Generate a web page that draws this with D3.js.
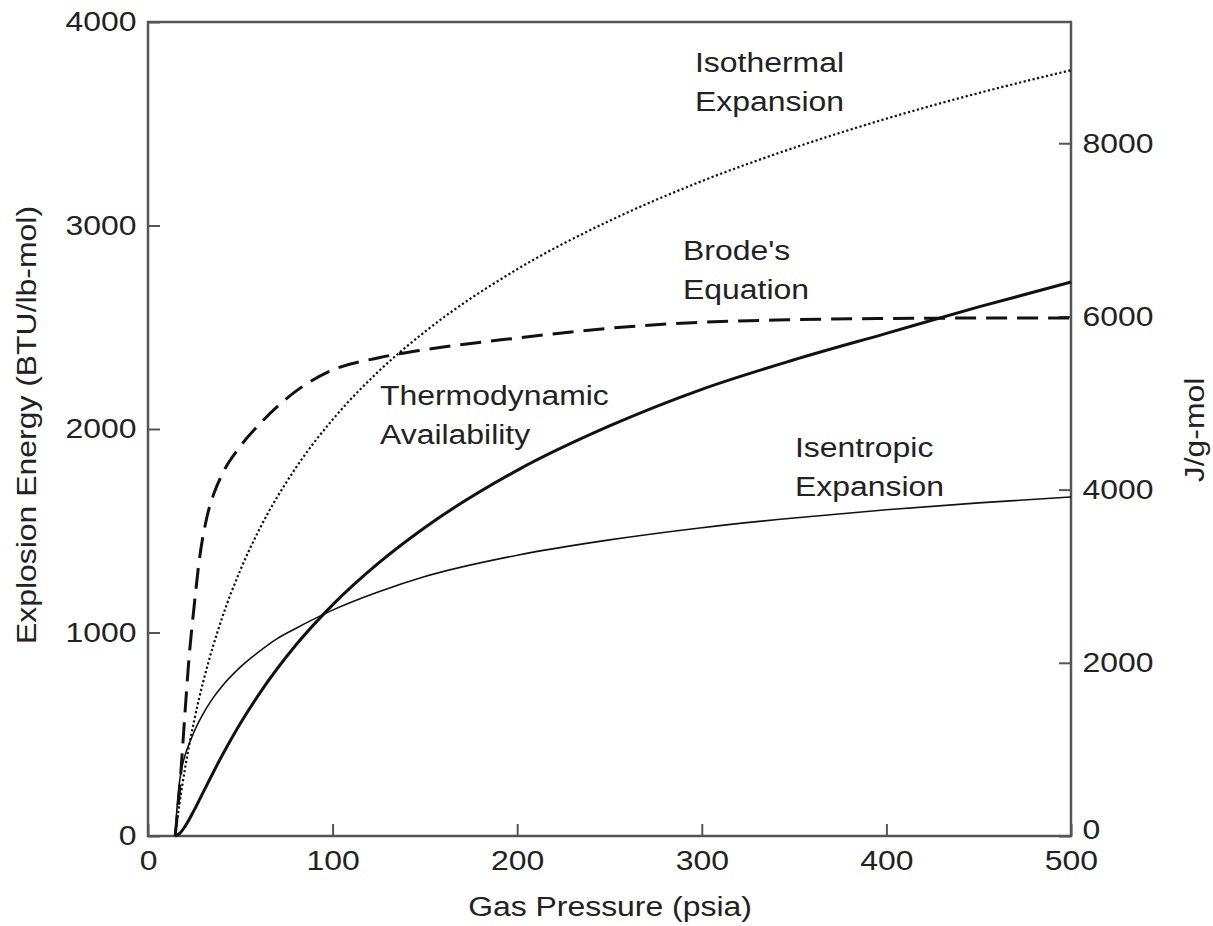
<!DOCTYPE html>
<html lang="en">
<head>
    <meta charset="UTF-8">
    <title>Explosion Energy</title>
    <script src="https://d3js.org/d3.v7.min.js"></script>
    <style>
        body { margin: 0; background: #fff; }
        text { font-family: "Liberation Sans", Arial, sans-serif; fill: #222; }
        .curve { fill: none; stroke: #111; }
    </style>
</head>
<body>
    <div id="chart"></div>
    <script>
        // each curve has its own pressure points (psia), values in BTU/lb-mol
        const isoP = [14.7, 17, 20, 25, 30, 40, 50, 60, 80, 100, 125, 150, 200, 250, 300, 350, 400, 450, 500];
        const isothermal = [0, 155, 329, 567, 761, 1068, 1306, 1501, 1808, 2046, 2284, 2478, 2785, 3023, 3218, 3382, 3525, 3651, 3763];

        const brodeP = [14.7, 17, 20, 22, 25, 28, 32, 36, 40, 50, 60, 80, 100, 125, 150, 200, 250, 300, 350, 400, 450, 500];
        const brode = [0, 220, 600, 850, 1130, 1370, 1570, 1690, 1775, 1915, 2020, 2185, 2290, 2350, 2390, 2447, 2495, 2525, 2537, 2543, 2545, 2545];

        const availP = [14.7, 17, 20, 25, 30, 40, 50, 60, 80, 100, 125, 150, 200, 250, 300, 350, 400, 450, 500];
        const availability = [0, 11, 46, 127, 217, 393, 553, 695, 937, 1136, 1342, 1516, 1797, 2015, 2195, 2340, 2470, 2600, 2722];

        const isenP = [14.7, 16, 17, 18, 20, 23, 26, 30, 35, 40, 50, 60, 70, 80, 100, 125, 150, 200, 250, 300, 350, 400, 450, 500];
        const isentropic = [0, 170, 260, 320, 395, 469, 533, 603, 675, 735, 830, 905, 970, 1020, 1110, 1200, 1275, 1380, 1455, 1515, 1563, 1603, 1637, 1666];

        const xTicks = [0, 100, 200, 300, 400, 500];
        const leftTicks = [0, 1000, 2000, 3000, 4000];
        const rightTicks = [0, 2000, 4000, 6000, 8000];
        const rightMax = 9400; // J/g-mol at the top of the frame

        var width = 1213, height = 926;
        var plotL = 148, plotR = 1071, plotT = 22, plotB = 836;
        var sx = 1.14; // the figure's lettering is a bit wide

        var svg = d3.select("#chart").append("svg")
            .attr("width", width)
            .attr("height", height);

        var x = d3.scaleLinear().domain([0, 500]).range([plotL, plotR]);
        var y = d3.scaleLinear().domain([0, 4000]).range([plotB, plotT]);
        var y2 = d3.scaleLinear().domain([0, rightMax]).range([plotB, plotT]);

        function styleAxis(g) {
            g.select(".domain").remove();
            g.selectAll("line").attr("stroke", "#555").attr("stroke-width", 2);
            g.selectAll("text")
                .attr("font-size", 28)
                .attr("font-family", "Liberation Sans, Arial, sans-serif")
                .attr("fill", "#222")
                .attr("transform", "scale(" + sx + ",1)");
        }

        svg.append("g")
            .attr("transform", "translate(0," + plotB + ")")
            .call(d3.axisBottom(x).tickValues(xTicks).tickSize(-12).tickPadding(14).tickFormat(d3.format("d")))
            .call(styleAxis);

        svg.append("g")
            .attr("transform", "translate(" + plotL + ",0)")
            .call(d3.axisLeft(y).tickValues(leftTicks).tickSize(-12).tickPadding(10).tickFormat(d3.format("d")))
            .call(styleAxis);

        var rightAxis = svg.append("g")
            .attr("transform", "translate(" + plotR + ",0)")
            .call(d3.axisRight(y2).tickValues(rightTicks).tickSize(-12).tickPadding(10).tickFormat(d3.format("d")))
            .call(styleAxis);
        // the right-hand zero sits a little above the corner
        rightAxis.selectAll(".tick text").filter(function(d) { return d === 0; }).attr("dy", "0.1em");

        // frame
        svg.append("rect")
            .attr("x", plotL).attr("y", plotT)
            .attr("width", plotR - plotL).attr("height", plotB - plotT)
            .attr("fill", "none").attr("stroke", "#555").attr("stroke-width", 2.5);

        var line = d3.line().curve(d3.curveMonotoneX);

        function drawCurve(ps, values, w, dash) {
            svg.append("path")
                .datum(ps.map(function(p, i) { return [x(p), y(values[i])]; }))
                .attr("class", "curve")
                .attr("stroke-width", w)
                .attr("stroke-dasharray", dash)
                .attr("d", line);
        }

        drawCurve(isoP, isothermal, 2.2, "2.2,2.4");
        drawCurve(brodeP, brode, 3, "21,10");
        drawCurve(isenP, isentropic, 1.6, null);
        drawCurve(availP, availability, 3, null);

        function label(px, py, lines, anchor, rot) {
            var t = svg.append("text")
                .attr("font-size", 28)
                .attr("transform", "translate(" + px + "," + py + ")" + (rot ? " rotate(-90)" : "") + " scale(" + sx + ",1)")
                .attr("text-anchor", anchor);
            lines.forEach(function(s, i) {
                t.append("tspan").attr("x", 0).attr("y", i * 39).text(s);
            });
        }

        label(695, 72, ["Isothermal", "Expansion"], "start");
        label(683, 260, ["Brode's", "Equation"], "start");
        label(380, 405, ["Thermodynamic", "Availability"], "start");
        label(795, 457, ["Isentropic", "Expansion"], "start");

        label(610, 916, ["Gas Pressure (psia)"], "middle");
        label(36, 425, ["Explosion Energy (BTU/lb-mol)"], "middle", true);
        label(1204, 430, ["J/g-mol"], "middle", true);
    </script>
</body>
</html>
